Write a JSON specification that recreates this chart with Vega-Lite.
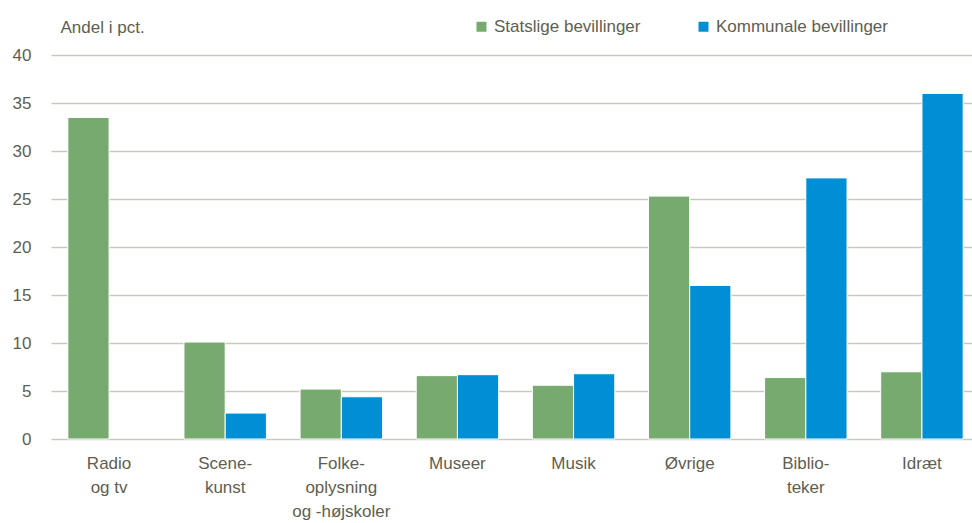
{
  "$schema": "https://vega.github.io/schema/vega-lite/v6.json",
  "width": 929,
  "height": 384,
  "autosize": {"type": "none"},
  "padding": {"left": 51, "top": 55, "right": 0, "bottom": 84},
  "background": "white",
  "config": {
    "view": {"stroke": null},
    "font": "Liberation Sans Narrow, Liberation Sans, Arial, sans-serif"
  },
  "data": {
    "values": [
      {"cat": "Radio|og tv", "serie": "Statslige bevillinger", "v": 33.5},
      {"cat": "Scene-|kunst", "serie": "Statslige bevillinger", "v": 10.1},
      {"cat": "Scene-|kunst", "serie": "Kommunale bevillinger", "v": 2.7},
      {"cat": "Folke-|oplysning|og -højskoler", "serie": "Statslige bevillinger", "v": 5.2},
      {"cat": "Folke-|oplysning|og -højskoler", "serie": "Kommunale bevillinger", "v": 4.4},
      {"cat": "Museer", "serie": "Statslige bevillinger", "v": 6.6},
      {"cat": "Museer", "serie": "Kommunale bevillinger", "v": 6.7},
      {"cat": "Musik", "serie": "Statslige bevillinger", "v": 5.6},
      {"cat": "Musik", "serie": "Kommunale bevillinger", "v": 6.8},
      {"cat": "Øvrige", "serie": "Statslige bevillinger", "v": 25.3},
      {"cat": "Øvrige", "serie": "Kommunale bevillinger", "v": 16.0},
      {"cat": "Biblio-|teker", "serie": "Statslige bevillinger", "v": 6.4},
      {"cat": "Biblio-|teker", "serie": "Kommunale bevillinger", "v": 27.2},
      {"cat": "Idræt", "serie": "Statslige bevillinger", "v": 7.0},
      {"cat": "Idræt", "serie": "Kommunale bevillinger", "v": 36.0}
    ]
  },
  "mark": {"type": "bar", "stroke": "white", "strokeWidth": 1},
  "encoding": {
    "x": {
      "field": "cat",
      "type": "nominal",
      "sort": null,
      "scale": {"paddingInner": 0.29, "paddingOuter": 0.145},
      "axis": {
        "title": null,
        "labelAngle": 0,
        "labelExpr": "split(datum.label, '|')",
        "labelFontSize": 17,
        "labelLineHeight": 24,
        "labelColor": "#5e5e52",
        "labelPadding": 16,
        "ticks": false,
        "domain": false,
        "labelBaseline": "top"
      }
    },
    "xOffset": {
      "field": "serie",
      "type": "nominal",
      "sort": ["Statslige bevillinger", "Kommunale bevillinger"],
      "scale": {"domain": ["Statslige bevillinger", "Kommunale bevillinger"], "paddingInner": 0, "paddingOuter": 0}
    },
    "y": {
      "field": "v",
      "type": "quantitative",
      "scale": {"domain": [0, 40], "nice": false},
      "axis": {
        "values": [0, 5, 10, 15, 20, 25, 30, 35, 40],
        "title": "Andel i pct.",
        "titleAngle": 0,
        "titleAlign": "left",
        "titleBaseline": "middle",
        "titleX": 9,
        "titleY": -28,
        "titleFontWeight": "normal",
        "titleFontSize": 17,
        "titleColor": "#5e5e52",
        "labelFontSize": 17,
        "labelColor": "#5e5e52",
        "labelPadding": 20,
        "ticks": false,
        "domain": false,
        "grid": true,
        "gridColor": "#c9c9bb",
        "gridWidth": 1.5
      }
    },
    "color": {
      "field": "serie",
      "type": "nominal",
      "scale": {"domain": ["Statslige bevillinger", "Kommunale bevillinger"], "range": ["#77aa6f", "#008fd5"]},
      "legend": {
        "title": null,
        "orient": "none",
        "direction": "horizontal",
        "legendX": 422,
        "legendY": -37,
        "symbolType": "square",
        "symbolSize": 100,
        "symbolStrokeWidth": 0,
        "labelFontSize": 17,
        "labelColor": "#5e5e52",
        "labelOffset": 4,
        "labelLimit": 400,
        "columnPadding": 54
      }
    }
  }
}
